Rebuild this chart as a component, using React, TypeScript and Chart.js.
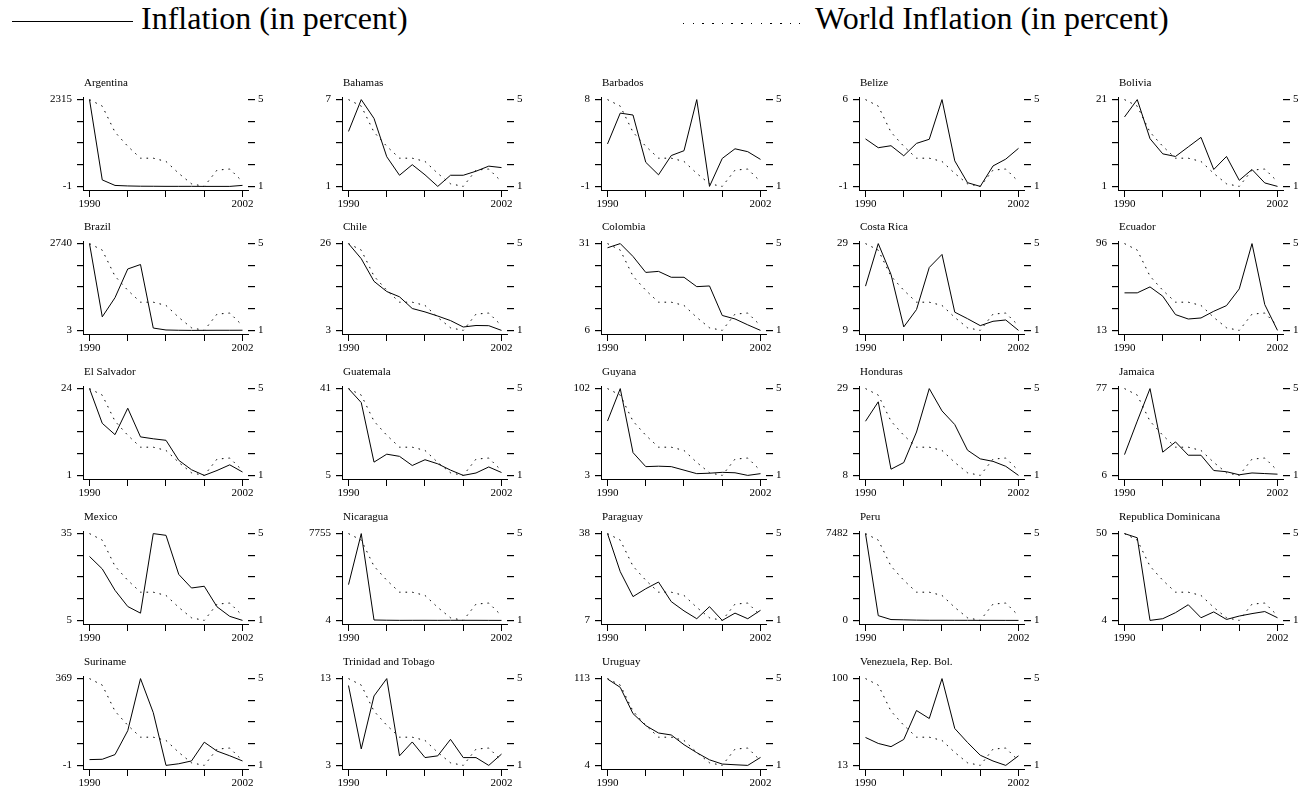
import React, { useEffect, useRef } from "react";
import { Chart, registerables } from "chart.js";

Chart.register(...registerables);

// ---------------- DATA ----------------
const YEARS = [1990, 1991, 1992, 1993, 1994, 1995, 1996, 1997, 1998, 1999, 2000, 2001, 2002];
const X_TICKS = [1990, 1993, 1996, 1999, 2002];
const X_LABELS = ["1990", "", "", "", "2002"];
const WORLD_TICKS = [1, 2, 3, 4, 5];
const WORLD_LABELS = ["1", "", "", "", "5"];

const WORLD = [5.0, 4.7, 3.5, 2.85, 2.3, 2.3, 2.15, 1.6, 1.12, 1.0, 1.75, 1.8, 1.22];

const COUNTRIES = [
  "Argentina", "Bahamas", "Barbados", "Belize", "Bolivia",
  "Brazil", "Chile", "Colombia", "Costa Rica", "Ecuador",
  "El Salvador", "Guatemala", "Guyana", "Honduras", "Jamaica",
  "Mexico", "Nicaragua", "Paraguay", "Peru", "Republica Dominicana",
  "Suriname", "Trinidad and Tobago", "Uruguay", "Venezuela, Rep. Bol.",
];

const Y_MIN_LABELS = [-1, 1, -1, -1, 1, 3, 3, 6, 9, 13, 1, 5, 3, 8, 6, 5, 4, 7, 0, 4, -1, 3, 4, 13];
const Y_MAX_LABELS = [2315, 7, 8, 6, 21, 2740, 26, 31, 29, 96, 24, 41, 102, 29, 77, 35, 7755, 38, 7482, 50, 369, 13, 113, 100];

const argentina = [2315, 172, 25, 11, 4, 3, 0.2, 0.5, 0.9, -1, -0.9, -1, 26];
const bahamas = [4.8, 7.0, 5.7, 3.05, 1.77, 2.5, 1.8, 1.0, 1.77, 1.77, 2.05, 2.4, 2.3];
const barbados = [3.4, 6.6, 6.4, 1.5, 0.2, 2.2, 2.7, 8.0, -1.0, 1.9, 2.9, 2.6, 1.8];
const belize = [2.83, 2.12, 2.28, 1.47, 2.47, 2.8, 6.0, 1.06, -0.7, -1.0, 0.65, 1.2, 2.07];
const bolivia = [17.0, 21.0, 12.0, 8.5, 7.9, 10.1, 12.3, 4.9, 7.9, 2.4, 4.9, 1.8, 1.0];
const brazil = [2740, 430, 1035, 1940, 2080, 77, 16, 7, 3, 5, 7, 7, 8];
const chile = [26, 22.0, 16.0, 13.3, 11.9, 8.8, 7.9, 6.8, 5.6, 3.9, 4.3, 4.25, 3.0];
const colombia = [29.8, 31.0, 27.3, 22.7, 23.0, 21.3, 21.3, 18.6, 18.8, 10.3, 9.3, 7.6, 6.0];
const costaRica = [19.2, 29.0, 21.9, 9.8, 13.8, 23.5, 26.5, 13.2, 11.7, 10.1, 11.1, 11.4, 9.0];
const ecuador = [48.9, 48.9, 54.6, 45.7, 28.1, 23.9, 24.9, 31.3, 36.7, 52.7, 96, 37.7, 13];
const elSalvador = [24, 14.8, 11.8, 18.8, 11.2, 10.7, 10.3, 5.0, 2.5, 1.0, 2.3, 3.8, 1.9];
const guatemala = [41, 35.2, 10.5, 13.8, 12.9, 9.1, 11.5, 9.8, 7.2, 5.0, 6.0, 8.5, 6.2];
const guyana = [65, 102, 29, 13, 13.5, 13, 9, 5, 5.5, 6.5, 6, 3, 5];
const honduras = [21.1, 25.8, 9.5, 11.1, 18.5, 29, 23.6, 20.3, 14.1, 12.0, 11.4, 10.2, 8.0];
const jamaica = [23, 50.4, 77, 25, 33.4, 22.5, 22.5, 10, 9, 6.5, 8, 7.5, 7];
const mexico = [27.1, 22.8, 15.4, 9.8, 7.5, 35, 34.4, 20.9, 16.2, 16.8, 9.7, 6.4, 5.0];
const nicaragua = [3200, 7755, 40, 20, 8, 11, 12, 9, 13, 11, 11.5, 7.4, 4];
const paraguay = [38, 24.4, 15.5, 18.3, 20.7, 13.7, 10.4, 7.6, 11.9, 7.0, 9.6, 7.6, 10.6];
const peru = [7482, 409, 73.5, 48.6, 23.7, 11.1, 11.5, 8.5, 7.3, 3.5, 3.8, 2.0, 0.2];
const repDominicana = [50, 47.8, 4.0, 4.9, 8.1, 12.3, 5.4, 8.5, 4.5, 6.3, 7.6, 8.7, 5.4];
const suriname = [23.7, 25.1, 45, 147, 369, 224, -1, 6, 18, 98, 60, 40, 18];
const trinidad = [12.2, 4.9, 11.0, 13.0, 4.1, 5.7, 3.9, 4.1, 6.0, 3.9, 3.9, 3.0, 4.3];
const uruguay = [112.5, 102, 69, 54, 44.7, 42.2, 30, 20, 11, 5.7, 4.8, 4.0, 14.0];
const venezuela = [41, 35, 31.8, 39, 68, 60, 100, 50, 36, 23.2, 17.4, 13, 22.6];

const SERIES = [
  argentina, bahamas, barbados, belize, bolivia,
  brazil, chile, colombia, costaRica, ecuador,
  elSalvador, guatemala, guyana, honduras, jamaica,
  mexico, nicaragua, paraguay, peru, repDominicana,
  suriname, trinidad, uruguay, venezuela,
];

// ---------------- LAYOUT ----------------
const FONT = "'Liberation Serif', 'Times New Roman', Times, serif";
const COL_X = 83.3;
const COL_STEP = 258.7;
const ROW_Y = 99.3;
const ROW_STEP = 144.75;
const LEFT_W = 46;
const RIGHT_W = 26;
const TOP_H = 26;
const BOTTOM_H = 24;
const AREA_W = 165;
const AREA_H = 93;
const TOP_GAP = 2.6;
const DATA_H = 86.8;
const PAD_TOP = TOP_GAP / DATA_H;
const PAD_BOT = (AREA_H - TOP_GAP - DATA_H) / DATA_H;
const X_PER_YEAR = 12.75;
const X_MIN = 1990 - 6.5 / X_PER_YEAR;
const X_MAX = X_MIN + AREA_W / X_PER_YEAR;

const titlePlugin = {
  id: "panelTitle",
  afterDraw(chart: any, _args: any, opts: any) {
    const { ctx, chartArea } = chart;
    ctx.save();
    ctx.font = `11px ${FONT}`;
    ctx.fillStyle = "#000";
    ctx.textAlign = "left";
    ctx.textBaseline = "middle";
    ctx.fillText(opts.text, chartArea.left + 1, chartArea.top - 14);
    ctx.restore();
  },
};

function Panel({ idx }: { idx: number }) {
  const ref = useRef<HTMLCanvasElement | null>(null);
  const W = LEFT_W + AREA_W + RIGHT_W;
  const H = TOP_H + AREA_H + BOTTOM_H;
  const col = idx % 5;
  const row = Math.floor(idx / 5);
  const left = COL_X + COL_STEP * col - LEFT_W;
  const top = ROW_Y + ROW_STEP * row - TOP_GAP - TOP_H;

  useEffect(() => {
    const lo = Y_MIN_LABELS[idx];
    const hi = Y_MAX_LABELS[idx];
    const r = hi - lo;
    const font = { family: FONT, size: 11 };
    const vals = SERIES[idx];
    const chart = new Chart(ref.current as HTMLCanvasElement, {
      type: "line",
      data: {
        datasets: [
          {
            label: "Inflation (in percent)",
            data: YEARS.map((x, i) => ({ x, y: vals[i] })),
            yAxisID: "y",
            borderColor: "#000",
            borderWidth: 1,
            pointRadius: 0,
            tension: 0,
          },
          {
            label: "World Inflation (in percent)",
            data: YEARS.map((x, i) => ({ x, y: WORLD[i] })),
            yAxisID: "y1",
            borderColor: "#000",
            borderWidth: 1,
            borderDash: [1.6, 5],
            pointRadius: 0,
            tension: 0,
          },
        ],
      },
      options: {
        animation: false,
        responsive: false,
        maintainAspectRatio: false,
        layout: { padding: { top: TOP_H, left: 0, right: 0, bottom: 0 } },
        plugins: {
          legend: { display: false },
          tooltip: { enabled: false },
          title: { display: false },
          panelTitle: { text: COUNTRIES[idx] },
        } as any,
        scales: {
          x: {
            type: "linear",
            min: X_MIN,
            max: X_MAX,
            afterBuildTicks: (s: any) => {
              s.ticks = X_TICKS.map((v) => ({ value: v }));
            },
            afterFit: (s: any) => {
              s.height = BOTTOM_H;
            },
            ticks: {
              autoSkip: false,
              maxRotation: 0,
              font,
              color: "#000",
              padding: 1,
              callback: (_v: any, i: number) => X_LABELS[i],
            },
            grid: { drawOnChartArea: false, drawTicks: true, tickLength: 7, color: "#000", lineWidth: 1 },
            border: { display: true, color: "#000", width: 1 },
          },
          y: {
            type: "linear",
            position: "left",
            min: lo - PAD_BOT * r,
            max: hi + PAD_TOP * r,
            afterBuildTicks: (s: any) => {
              s.ticks = [0, 0.25, 0.5, 0.75, 1].map((f) => ({ value: lo + f * r }));
            },
            afterFit: (s: any) => {
              s.width = LEFT_W;
            },
            ticks: {
              autoSkip: false,
              font,
              color: "#000",
              padding: 5,
              callback: (_v: any, i: number) => (i === 0 ? String(lo) : i === 4 ? String(hi) : ""),
            },
            grid: { drawOnChartArea: false, drawTicks: true, tickLength: 6, color: "#000", lineWidth: 1.2 },
            border: { display: true, color: "#000", width: 1 },
          },
          y1: {
            type: "linear",
            position: "right",
            min: 1 - PAD_BOT * 4,
            max: 5 + PAD_TOP * 4,
            afterBuildTicks: (s: any) => {
              s.ticks = WORLD_TICKS.map((v) => ({ value: v }));
            },
            afterFit: (s: any) => {
              s.width = RIGHT_W;
            },
            ticks: {
              autoSkip: false,
              font,
              color: "#000",
              padding: 3,
              callback: (_v: any, i: number) => WORLD_LABELS[i],
            },
            grid: { drawOnChartArea: false, drawTicks: true, tickLength: 7, color: "#000", lineWidth: 1.2 },
            border: { display: false },
          },
        },
      } as any,
      plugins: [titlePlugin as any],
    });
    return () => chart.destroy();
  }, [idx]);

  return (
    <div style={{ position: "absolute", left, top, width: W, height: H }}>
      <canvas ref={ref} width={W} height={H} style={{ width: W, height: H, display: "block" }} />
    </div>
  );
}

export default function App() {
  return (
    <div style={{ position: "absolute", left: 0, top: 0, width: 1302, height: 791, background: "#fff", overflow: "hidden" }}>
      <div style={{ position: "absolute", left: 12, top: 21, width: 121, height: 0, borderTop: "1.5px solid #000" }} />
      <div
        style={{
          position: "absolute",
          left: 141,
          top: 0,
          fontFamily: FONT,
          fontSize: 32,
          lineHeight: "36px",
          whiteSpace: "nowrap",
          color: "#000",
        }}
      >
        Inflation (in percent)
      </div>
      <div
        style={{
          position: "absolute",
          left: 683,
          top: 22.5,
          width: 117,
          height: 1.5,
          backgroundImage: "repeating-linear-gradient(to right, #000 0 1.5px, transparent 1.5px 9.7px)",
        }}
      />
      <div
        style={{
          position: "absolute",
          left: 815,
          top: 0,
          fontFamily: FONT,
          fontSize: 32,
          lineHeight: "36px",
          whiteSpace: "nowrap",
          color: "#000",
        }}
      >
        World Inflation (in percent)
      </div>
      {COUNTRIES.map((_, i) => (
        <Panel key={i} idx={i} />
      ))}
    </div>
  );
}
